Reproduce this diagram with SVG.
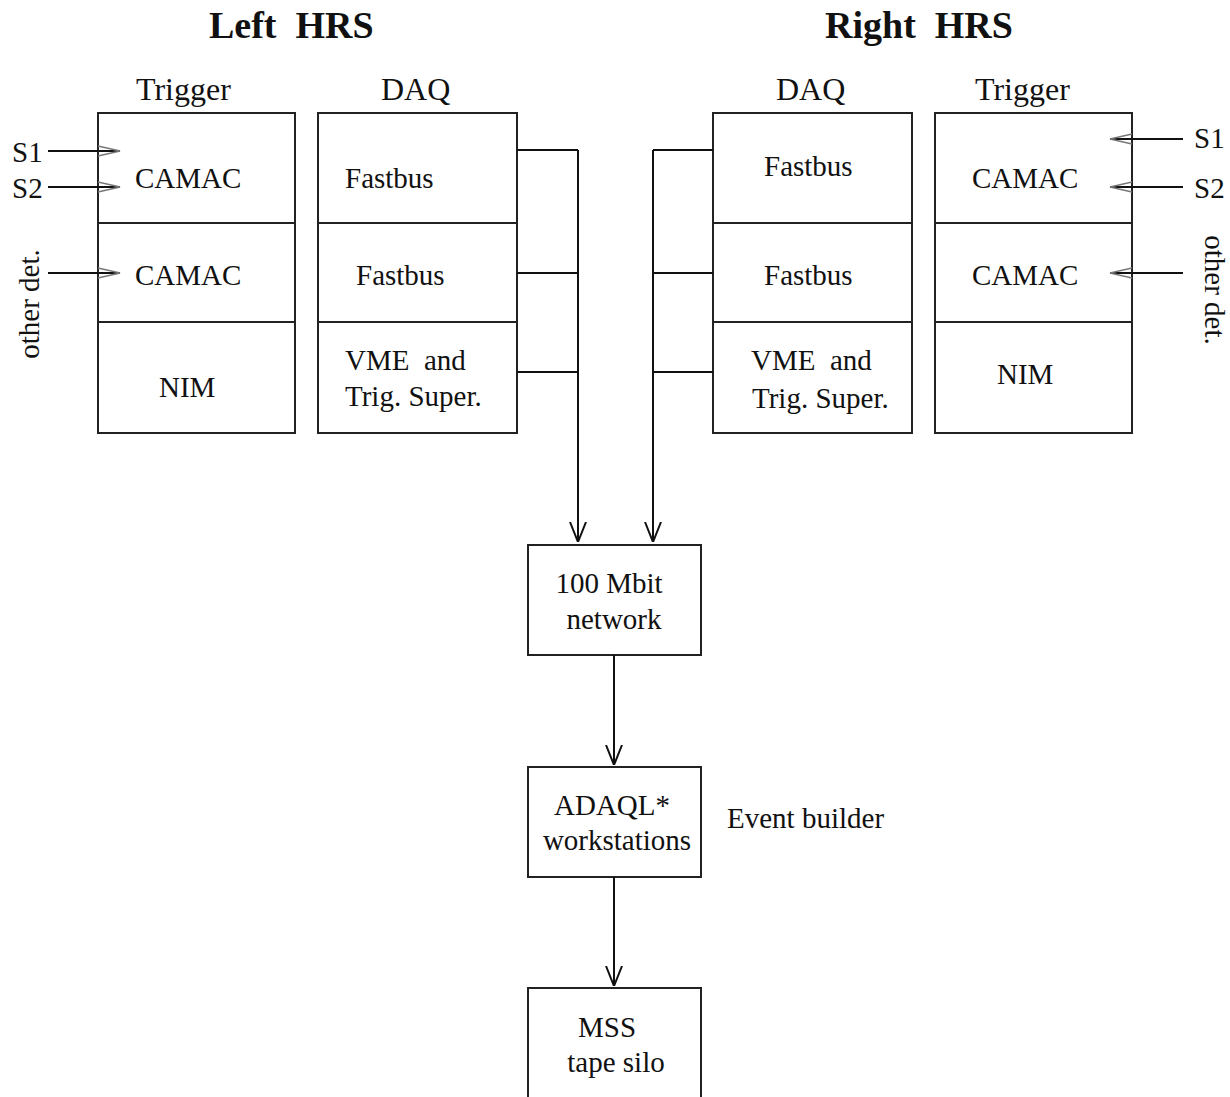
<svg xmlns="http://www.w3.org/2000/svg" width="1230" height="1097" viewBox="0 0 1230 1097">
  <style>
    text { font-family: "Liberation Serif", "Times New Roman", serif; fill: #111; }
    .title { font-size: 38px; font-weight: bold; }
    .head { font-size: 32px; }
    .lbl { font-size: 29px; }
    .box { fill: #fff; stroke: #222; stroke-width: 2; }
    .div { stroke: #222; stroke-width: 2; fill: none; }
    .wire { stroke: #111; stroke-width: 2; fill: none; }
    .sig { stroke: #111; stroke-width: 2; fill: none; }
    .tip { stroke: #777; stroke-width: 1.4; fill: none; }
  </style>
  <defs>
    <marker id="vee" viewBox="0 0 20 18" refX="20" refY="9" markerWidth="20" markerHeight="18" markerUnits="userSpaceOnUse" orient="auto">
      <path d="M0,1 L20,9 L0,17" fill="none" stroke="#111" stroke-width="2"/>
    </marker>
  </defs>

  <rect width="1230" height="1097" fill="#fff"/>

  <!-- Titles -->
  <text class="title" x="209" y="38" xml:space="preserve">Left  HRS</text>
  <text class="title" x="825" y="38" xml:space="preserve">Right  HRS</text>

  <!-- Left HRS: trigger crate stack -->
  <g id="left-trigger">
    <text class="head" x="136" y="100">Trigger</text>
    <rect class="box" x="98" y="113" width="197" height="320"/>
    <line class="div" x1="98" y1="223" x2="295" y2="223"/>
    <line class="div" x1="98" y1="322" x2="295" y2="322"/>
    <text class="lbl" x="135" y="188">CAMAC</text>
    <text class="lbl" x="135" y="285">CAMAC</text>
    <text class="lbl" x="159" y="397">NIM</text>
  </g>

  <!-- Left HRS: DAQ crate stack -->
  <g id="left-daq">
    <text class="head" x="381" y="100">DAQ</text>
    <rect class="box" x="318" y="113" width="199" height="320"/>
    <line class="div" x1="318" y1="223" x2="517" y2="223"/>
    <line class="div" x1="318" y1="322" x2="517" y2="322"/>
    <text class="lbl" x="345" y="188">Fastbus</text>
    <text class="lbl" x="356" y="285">Fastbus</text>
    <text class="lbl" x="345" y="370" xml:space="preserve">VME  and</text>
    <text class="lbl" x="345" y="406">Trig. Super.</text>
  </g>

  <!-- Right HRS: DAQ crate stack -->
  <g id="right-daq">
    <text class="head" x="776" y="100">DAQ</text>
    <rect class="box" x="713" y="113" width="199" height="320"/>
    <line class="div" x1="713" y1="223" x2="912" y2="223"/>
    <line class="div" x1="713" y1="322" x2="912" y2="322"/>
    <text class="lbl" x="764" y="176">Fastbus</text>
    <text class="lbl" x="764" y="285">Fastbus</text>
    <text class="lbl" x="751" y="370" xml:space="preserve">VME  and</text>
    <text class="lbl" x="752" y="408">Trig. Super.</text>
  </g>

  <!-- Right HRS: trigger crate stack -->
  <g id="right-trigger">
    <text class="head" x="975" y="100">Trigger</text>
    <rect class="box" x="935" y="113" width="197" height="320"/>
    <line class="div" x1="935" y1="223" x2="1132" y2="223"/>
    <line class="div" x1="935" y1="322" x2="1132" y2="322"/>
    <text class="lbl" x="972" y="188">CAMAC</text>
    <text class="lbl" x="972" y="285">CAMAC</text>
    <text class="lbl" x="997" y="384">NIM</text>
  </g>

  <!-- Central data path -->
  <g id="network">
    <rect class="box" x="528" y="545" width="173" height="110"/>
    <text class="lbl" x="609" y="593" text-anchor="middle">100 Mbit</text>
    <text class="lbl" x="614" y="629" text-anchor="middle">network</text>
  </g>

  <g id="event-builder">
    <rect class="box" x="528" y="767" width="173" height="110"/>
    <text class="lbl" x="612" y="815" text-anchor="middle">ADAQL*</text>
    <text class="lbl" x="617" y="850" text-anchor="middle">workstations</text>
    <text class="lbl" x="727" y="828">Event builder</text>
  </g>

  <g id="tape-silo">
    <rect class="box" x="528" y="988" width="173" height="130"/>
    <text class="lbl" x="607" y="1037" text-anchor="middle">MSS</text>
    <text class="lbl" x="616" y="1072" text-anchor="middle">tape silo</text>
  </g>

  <!-- Detector signal inputs -->
  <g id="left-inputs">
    <text class="lbl" x="12" y="162">S1</text>
    <text class="lbl" x="12" y="198">S2</text>
    <text class="lbl" transform="translate(39,304) rotate(-90)" text-anchor="middle">other det.</text>
    <line class="sig" x1="48" y1="151" x2="120" y2="151"/>
    <line class="sig" x1="48" y1="187" x2="120" y2="187"/>
    <line class="sig" x1="48" y1="273" x2="120" y2="273"/>
    <path class="tip" d="M98,146 L120,151 L98,156"/>
    <path class="tip" d="M98,182 L120,187 L98,192"/>
    <path class="tip" d="M98,268 L120,273 L98,278"/>
  </g>

  <g id="right-inputs">
    <text class="lbl" x="1194" y="148">S1</text>
    <text class="lbl" x="1194" y="198">S2</text>
    <text class="lbl" transform="translate(1205,290) rotate(90)" text-anchor="middle">other det.</text>
    <line class="sig" x1="1183" y1="139" x2="1110" y2="139"/>
    <line class="sig" x1="1183" y1="187" x2="1110" y2="187"/>
    <line class="sig" x1="1183" y1="273" x2="1110" y2="273"/>
    <path class="tip" d="M1132,134 L1110,139 L1132,144"/>
    <path class="tip" d="M1132,182 L1110,187 L1132,192"/>
    <path class="tip" d="M1132,268 L1110,273 L1132,278"/>
  </g>

  <!-- Readout connectors -->
  <g id="connectors">
    <path class="wire" d="M517,150 H578 M517,273 H578 M517,372 H578"/>
    <path class="wire" d="M578,150 V542" marker-end="url(#vee)"/>
    <path class="wire" d="M713,150 H653 M713,273 H653 M713,372 H653"/>
    <path class="wire" d="M653,150 V542" marker-end="url(#vee)"/>
    <path class="wire" d="M614,655 V765" marker-end="url(#vee)"/>
    <path class="wire" d="M614,877 V986" marker-end="url(#vee)"/>
  </g>
</svg>
